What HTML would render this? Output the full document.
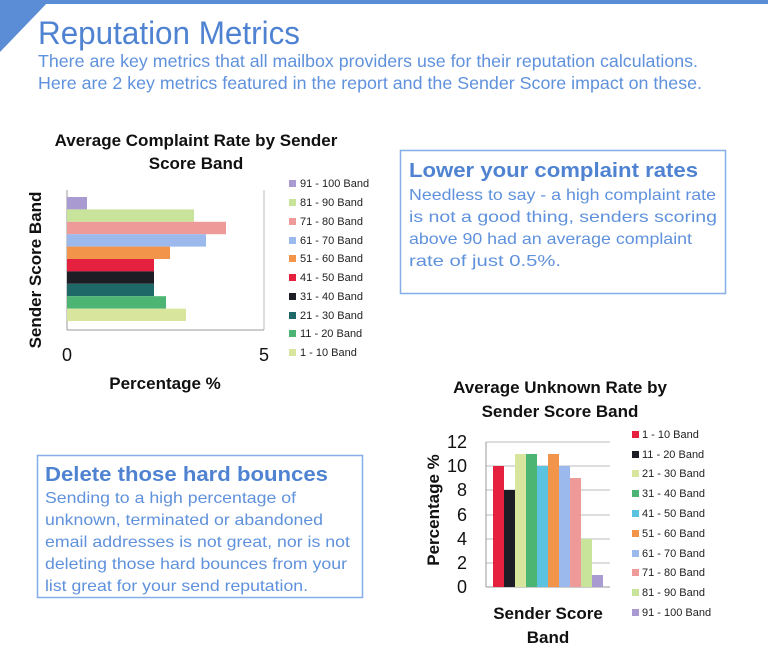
<!DOCTYPE html>
<html><head><meta charset="utf-8"><style>
body{margin:0;width:768px;height:654px;background:#fff;overflow:hidden;font-family:"Liberation Sans",sans-serif}
</style></head><body>
<svg width="768" height="654" xmlns="http://www.w3.org/2000/svg" font-family="Liberation Sans, sans-serif">
<rect x="30" y="0" width="738" height="4" fill="#5b8dd6"/>
<polygon points="0,0 50,0 0,52" fill="#5b8dd6"/>
<text x="38" y="44" font-size="32" fill="#4f83d2" textLength="262" lengthAdjust="spacingAndGlyphs">Reputation Metrics</text>
<text x="38" y="67" font-size="17.5" fill="#5f91dc" textLength="660" lengthAdjust="spacingAndGlyphs">There are key metrics that all mailbox providers use for their reputation calculations.</text>
<text x="38" y="89" font-size="17.5" fill="#5f91dc" textLength="664" lengthAdjust="spacingAndGlyphs">Here are 2 key metrics featured in the report and the Sender Score impact on these.</text>

<!-- Chart 1 -->
<g font-weight="bold" font-size="17" fill="#111" text-anchor="middle">
<text x="196" y="146">Average Complaint Rate by Sender</text>
<text x="196" y="169">Score Band</text>
<text x="165" y="389">Percentage %</text>
<text transform="translate(41,270) rotate(-90)">Sender Score Band</text>
</g>
<line x1="67" y1="190" x2="67" y2="330" stroke="#999"/>
<line x1="264" y1="190" x2="264" y2="330" stroke="#bbb"/>
<line x1="67" y1="330" x2="264" y2="330" stroke="#999"/>
<g>
<rect x="67" y="197" width="20" height="12.4" fill="#a99bd1"/>
<rect x="67" y="209.4" width="127" height="12.4" fill="#c8e39a"/>
<rect x="67" y="221.8" width="159" height="12.4" fill="#ee9a98"/>
<rect x="67" y="234.2" width="139" height="12.4" fill="#9bb9ec"/>
<rect x="67" y="246.6" width="103" height="12.4" fill="#f3944b"/>
<rect x="67" y="259" width="87" height="12.4" fill="#e5213f"/>
<rect x="67" y="271.4" width="87" height="12.4" fill="#1d1d26"/>
<rect x="67" y="283.8" width="87" height="12.4" fill="#1e6868"/>
<rect x="67" y="296.2" width="99" height="12.4" fill="#4db574"/>
<rect x="67" y="308.6" width="119" height="12.4" fill="#d7e69c"/>
</g>
<g font-size="18" fill="#111" text-anchor="middle"><text x="67" y="361">0</text><text x="264" y="361">5</text></g>
<g font-size="11" fill="#222">
<rect x="289" y="180" width="7" height="7" fill="#a99bd1"/><text x="300" y="187">91 - 100 Band</text>
<rect x="289" y="199" width="7" height="7" fill="#c8e39a"/><text x="300" y="206">81 - 90 Band</text>
<rect x="289" y="218" width="7" height="7" fill="#ee9a98"/><text x="300" y="225">71 - 80 Band</text>
<rect x="289" y="237" width="7" height="7" fill="#9bb9ec"/><text x="300" y="244">61 - 70 Band</text>
<rect x="289" y="255" width="7" height="7" fill="#f3944b"/><text x="300" y="262">51 - 60 Band</text>
<rect x="289" y="274" width="7" height="7" fill="#e5213f"/><text x="300" y="281">41 - 50 Band</text>
<rect x="289" y="293" width="7" height="7" fill="#1d1d26"/><text x="300" y="300">31 - 40 Band</text>
<rect x="289" y="312" width="7" height="7" fill="#1e6868"/><text x="300" y="319">21 - 30 Band</text>
<rect x="289" y="330" width="7" height="7" fill="#4db574"/><text x="300" y="337">11 - 20 Band</text>
<rect x="289" y="349" width="7" height="7" fill="#d7e69c"/><text x="300" y="356">1 - 10 Band</text>
</g>

<!-- Box 1 -->
<rect x="400.5" y="150.5" width="325" height="143" fill="none" stroke="#86aee6" stroke-width="1.5"/>
<text x="409" y="177" font-size="20.5" font-weight="bold" fill="#4f83d2" textLength="289" lengthAdjust="spacingAndGlyphs">Lower your complaint rates</text>
<g font-size="16" fill="#5f91dc" lengthAdjust="spacingAndGlyphs">
<text x="409" y="200" textLength="307" lengthAdjust="spacingAndGlyphs">Needless to say - a high complaint rate</text>
<text x="409" y="222" textLength="308" lengthAdjust="spacingAndGlyphs">is not a good thing, senders scoring</text>
<text x="409" y="244" textLength="283" lengthAdjust="spacingAndGlyphs">above 90 had an average complaint</text>
<text x="409" y="266" textLength="152" lengthAdjust="spacingAndGlyphs">rate of just 0.5%.</text>
</g>

<!-- Box 2 -->
<rect x="37.5" y="455.5" width="325" height="142" fill="none" stroke="#86aee6" stroke-width="1.5"/>
<text x="45" y="481" font-size="20.5" font-weight="bold" fill="#4f83d2" textLength="283" lengthAdjust="spacingAndGlyphs">Delete those hard bounces</text>
<g font-size="16" fill="#5f91dc">
<text x="45" y="503" textLength="251" lengthAdjust="spacingAndGlyphs">Sending to a high percentage of</text>
<text x="45" y="525" textLength="278" lengthAdjust="spacingAndGlyphs">unknown, terminated or abandoned</text>
<text x="45" y="547" textLength="305" lengthAdjust="spacingAndGlyphs">email addresses is not great, nor is not</text>
<text x="45" y="569" textLength="302" lengthAdjust="spacingAndGlyphs">deleting those hard bounces from your</text>
<text x="45" y="591" textLength="263" lengthAdjust="spacingAndGlyphs">list great for your send reputation.</text>
</g>

<!-- Chart 2 -->
<g font-weight="bold" font-size="17" fill="#111" text-anchor="middle">
<text x="560" y="393">Average Unknown Rate by</text>
<text x="560" y="417">Sender Score Band</text>
<text x="548" y="619">Sender Score</text>
<text x="548" y="643">Band</text>
<text transform="translate(439,510) rotate(-90)">Percentage %</text>
</g>
<g stroke="#bbb">
<line x1="486" y1="442" x2="610" y2="442"/><line x1="486" y1="466" x2="610" y2="466"/>
<line x1="486" y1="490" x2="610" y2="490"/><line x1="486" y1="515" x2="610" y2="515"/>
<line x1="486" y1="539" x2="610" y2="539"/><line x1="486" y1="563" x2="610" y2="563"/>
<line x1="486" y1="587" x2="610" y2="587" stroke="#999"/><line x1="486" y1="442" x2="486" y2="587" stroke="#999"/>
</g>
<g>
<rect x="493" y="466" width="11" height="121" fill="#e5213f"/>
<rect x="504" y="490" width="11" height="97" fill="#1d1d26"/>
<rect x="515" y="454" width="11" height="133" fill="#d7e69c"/>
<rect x="526" y="454" width="11" height="133" fill="#4db574"/>
<rect x="537" y="466" width="11" height="121" fill="#5bc3e0"/>
<rect x="548" y="454" width="11" height="133" fill="#f3944b"/>
<rect x="559" y="466" width="11" height="121" fill="#9bb9ec"/>
<rect x="570" y="478" width="11" height="109" fill="#ee9a98"/>
<rect x="581" y="539" width="11" height="48" fill="#c8e39a"/>
<rect x="592" y="575" width="11" height="12" fill="#a99bd1"/>
</g>
<g font-size="18" fill="#111" text-anchor="end">
<text x="467" y="448">12</text><text x="467" y="472">10</text><text x="467" y="496">8</text>
<text x="467" y="521">6</text><text x="467" y="545">4</text><text x="467" y="569">2</text><text x="467" y="593">0</text>
</g>
<g font-size="11" fill="#222">
<rect x="632" y="431" width="7" height="7" fill="#e5213f"/><text x="642" y="438">1 - 10 Band</text>
<rect x="632" y="451" width="7" height="7" fill="#1d1d26"/><text x="642" y="458">11 - 20 Band</text>
<rect x="632" y="470" width="7" height="7" fill="#d7e69c"/><text x="642" y="477">21 - 30 Band</text>
<rect x="632" y="490" width="7" height="7" fill="#4db574"/><text x="642" y="497">31 - 40 Band</text>
<rect x="632" y="510" width="7" height="7" fill="#5bc3e0"/><text x="642" y="517">41 - 50 Band</text>
<rect x="632" y="530" width="7" height="7" fill="#f3944b"/><text x="642" y="537">51 - 60 Band</text>
<rect x="632" y="550" width="7" height="7" fill="#9bb9ec"/><text x="642" y="557">61 - 70 Band</text>
<rect x="632" y="569" width="7" height="7" fill="#ee9a98"/><text x="642" y="576">71 - 80 Band</text>
<rect x="632" y="589" width="7" height="7" fill="#c8e39a"/><text x="642" y="596">81 - 90 Band</text>
<rect x="632" y="609" width="7" height="7" fill="#a99bd1"/><text x="642" y="616">91 - 100 Band</text>
</g>
</svg>
</body></html>
